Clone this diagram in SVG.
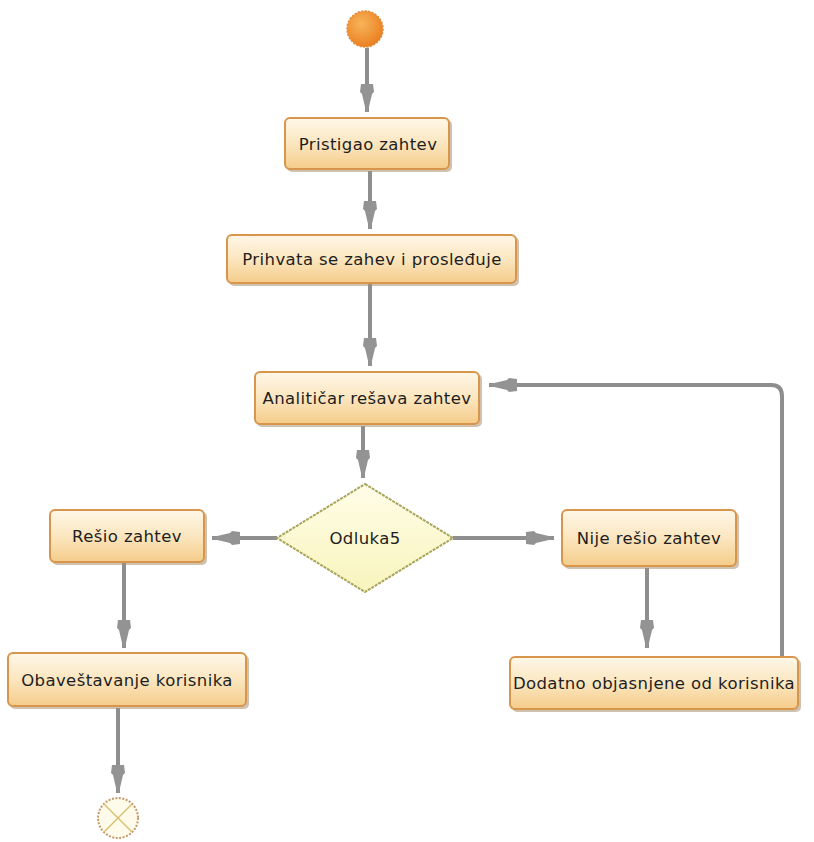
<svg xmlns="http://www.w3.org/2000/svg" width="814" height="842" viewBox="0 0 814 842">
  <style>
    .box { fill: url(#boxFill); stroke: #d8954c; stroke-width: 2; }
    .shadow { fill: #a89070; opacity: 0.55; }
    .label { font-family: "DejaVu Sans", sans-serif; font-size: 16.5px; letter-spacing: 0.4px; fill: #1e1e1e; text-anchor: middle; dominant-baseline: central; }
    .flow { fill: none; stroke: #8e8e8e; stroke-width: 4; }
  </style>
  <defs>
    <linearGradient id="boxFill" x1="0" y1="0" x2="0" y2="1">
      <stop offset="0" stop-color="#fef7e8"/>
      <stop offset="0.5" stop-color="#fbe6bf"/>
      <stop offset="1" stop-color="#f5cc8a"/>
    </linearGradient>
    <linearGradient id="diaFill" x1="0" y1="0" x2="0" y2="1">
      <stop offset="0" stop-color="#fffde8"/>
      <stop offset="1" stop-color="#f8f4bc"/>
    </linearGradient>
    <radialGradient id="startFill" cx="0.4" cy="0.35" r="0.7">
      <stop offset="0" stop-color="#f8b45a"/>
      <stop offset="1" stop-color="#e97d1e"/>
    </radialGradient>
    <marker id="head" markerUnits="userSpaceOnUse" markerWidth="30" markerHeight="18" viewBox="0 -9 30 18" refX="28" refY="0" orient="auto">
      <path d="M0,-6 L8,-7 L10,-5 L28,-0.8 L28,0.8 L10,5 L8,7 L0,6 Z" fill="#939393"/>
    </marker>
  </defs>

  <!-- connectors -->
  <g id="connectors">
    <path class="flow" d="M367,48 L367,112" marker-end="url(#head)"/>
    <path class="flow" d="M370,171 L370,229" marker-end="url(#head)"/>
    <path class="flow" d="M370,284 L370,366" marker-end="url(#head)"/>
    <path class="flow" d="M363,426 L363,478" marker-end="url(#head)"/>
    <path class="flow" d="M277,538 L212,538" marker-end="url(#head)"/>
    <path class="flow" d="M453,538 L554,538" marker-end="url(#head)"/>
    <path class="flow" d="M124,563 L124,648" marker-end="url(#head)"/>
    <path class="flow" d="M647,568 L647,648" marker-end="url(#head)"/>
    <path class="flow" d="M118,708 L118,793" marker-end="url(#head)"/>
    <path class="flow" d="M782,656 L782,396 Q782,385 771,385 L489,385" marker-end="url(#head)"/>
  </g>

  <!-- initial node -->
  <g id="start">
    <circle cx="365" cy="29" r="18" fill="url(#startFill)" stroke="#e08a3a" stroke-width="1.5" stroke-dasharray="2 1.5"/>
  </g>

  <g id="pristigao">
    <rect class="shadow" x="287" y="120" width="165" height="52" rx="5"/>
    <rect class="box" x="285" y="118" width="164" height="51" rx="5"/>
    <text class="label" x="368" y="144">Pristigao zahtev</text>
  </g>

  <g id="prihvata">
    <rect class="shadow" x="229" y="237" width="290" height="49" rx="5"/>
    <rect class="box" x="227" y="235" width="289" height="48" rx="5"/>
    <text class="label" x="372" y="259">Prihvata se zahev i prosleđuje</text>
  </g>

  <g id="analiticar">
    <rect class="shadow" x="257" y="374" width="225" height="53" rx="5"/>
    <rect class="box" x="255" y="372" width="224" height="52" rx="5"/>
    <text class="label" x="367" y="398">Analitičar rešava zahtev</text>
  </g>

  <g id="odluka5">
    <polygon points="365,484 453,538 365,592 277,538" fill="url(#diaFill)" stroke="#a8a45a" stroke-width="2" stroke-dasharray="3 1"/>
    <text class="label" x="365" y="538">Odluka5</text>
  </g>

  <g id="resio">
    <rect class="shadow" x="52" y="512" width="155" height="53" rx="5"/>
    <rect class="box" x="50" y="510" width="154" height="52" rx="5"/>
    <text class="label" x="127" y="536">Rešio zahtev</text>
  </g>

  <g id="nije-resio">
    <rect class="shadow" x="564" y="512" width="175" height="57" rx="5"/>
    <rect class="box" x="562" y="510" width="174" height="56" rx="5"/>
    <text class="label" x="649" y="538">Nije rešio zahtev</text>
  </g>

  <g id="dodatno">
    <rect class="shadow" x="512" y="659" width="289" height="53" rx="5"/>
    <rect class="box" x="510" y="657" width="288" height="52" rx="5"/>
    <text class="label" x="654" y="683">Dodatno objasnjene od korisnika</text>
  </g>

  <g id="obavestavanje">
    <rect class="shadow" x="10" y="655" width="239" height="54" rx="5"/>
    <rect class="box" x="8" y="653" width="238" height="53" rx="5"/>
    <text class="label" x="127" y="680">Obaveštavanje korisnika</text>
  </g>

  <!-- final node -->
  <g id="end">
    <circle cx="118" cy="818" r="20" fill="#fffbea" stroke="#c49a6a" stroke-width="2" stroke-dasharray="2 1.5"/>
    <line x1="104" y1="804" x2="132" y2="832" stroke="#d8c070" stroke-width="1.5"/>
    <line x1="132" y1="804" x2="104" y2="832" stroke="#d8c070" stroke-width="1.5"/>
  </g>
</svg>
